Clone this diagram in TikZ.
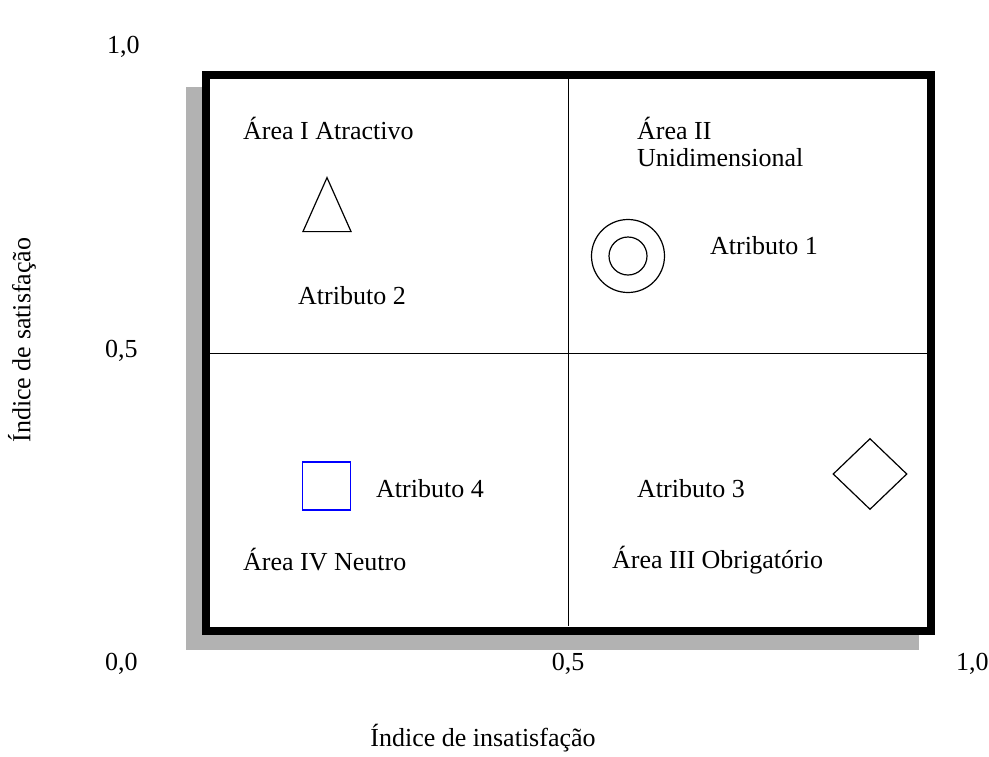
\documentclass[tikz,border=0pt]{standalone}
\usepackage{fontspec}
\setmainfont{Liberation Serif}
\usetikzlibrary{shapes.geometric}
\begin{document}
\begin{tikzpicture}[x=1pt,y=-1pt,
label/.style={inner sep=0pt,font=\fontsize{26}{30}\selectfont}
]

\tikzstyle{shadow} = [fill=black!30,draw=none]
\tikzstyle{frame} = [draw,line width=8pt,fill=white]
\tikzstyle{divider} = [-,thin]
\tikzstyle{symbol} = [draw,line width=1.2pt,inner sep=0pt]

  \useasboundingbox (0,0) rectangle (989,756);

  % box with shadow
  \fill[shadow] (186,87) rectangle (919,650);
  \draw[frame] (206,75) rectangle (931,630.5);
  \coordinate (top)    at (568,79);
  \coordinate (bottom) at (568,626);
  \coordinate (left)   at (210,353);
  \coordinate (right)  at (927,353);
  \draw[divider] (top) -- (bottom);
  \draw[divider] (left) -- (right);

  % axis values
  \node (y10)   [label,anchor=west] at (107,47)  {1,0};
  \node (y05)   [label,anchor=west] at (105,351) {0,5};
  \node (y00)   [label,anchor=west] at (105,664) {0,0};
  \node (x05)   [label]             at (568,664) {0,5};
  \node (x10)   [label,anchor=west] at (956,664) {1,0};
  \node (xaxis) [label]             at (483,738) {Índice de insatisfação};
  \node (yaxis) [label,rotate=90]   at (22,340)  {Índice de satisfação};

  % areas
  \node (areaI)   [label,anchor=west] at (243,128) {Área I Atractivo};
  \node (areaII)  [label,anchor=west] at (637,128) {Área II};
  \node (areaIIb) [label,anchor=west] at (637,158) {Unidimensional};
  \node (areaIV)  [label,anchor=west] at (243,560) {Área IV Neutro};
  \node (areaIII) [label,anchor=west] at (612,560) {Área III Obrigatório};

  % attributes
  \node (attr1) [label,anchor=west] at (710,246) {Atributo 1};
  \node (attr2) [label,anchor=west] at (298,296) {Atributo 2};
  \node (attr3) [label,anchor=west] at (637,489) {Atributo 3};
  \node (attr4) [label,anchor=west] at (376,489) {Atributo 4};

  \node (tri)    [symbol,isosceles triangle,isosceles triangle apex angle=48,
                  shape border rotate=90,minimum height=54pt,minimum width=48pt] at (327,216) {};
  \node (ring)   [symbol,circle,minimum size=73pt] at (628,256) {};
  \node (ringin) [symbol,circle,minimum size=38pt] at (628,256) {};
  \node (sq)     [symbol,draw=blue,minimum size=48pt] at (326.5,486) {};
  \node (dia)    [symbol,diamond,minimum width=74pt,minimum height=71pt] at (870,474) {};

\end{tikzpicture}
\end{document}
